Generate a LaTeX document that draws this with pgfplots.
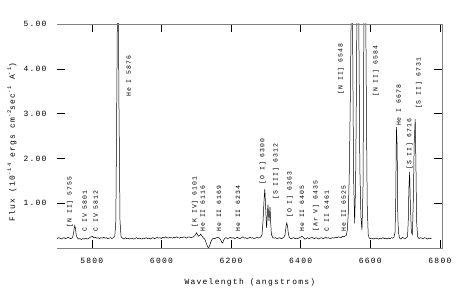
\documentclass[border=0pt]{standalone}
\usepackage{pgfplots}
\pgfplotsset{compat=1.18}
\usepackage{fontspec}
\newfontfamily\hf[LetterSpace=16]{Liberation Mono}
\newcommand\tickf{\hf\fontsize{8}{9}\selectfont}
\newcommand\labf{\hf\fontsize{6.5}{7}\selectfont}
\newcommand\sups[1]{\raisebox{0.9ex}{\hf\fontsize{5.5}{6}\selectfont #1}}
\pgfplotstableread{
lam flux
5700 0.21
5704 0.23
5708 0.22
5712 0.20
5716 0.22
5720 0.23
5724 0.21
5728 0.22
5732 0.24
5736 0.22
5740 0.21
5744 0.23
5747 0.30
5749 0.42
5751 0.50
5753 0.44
5755 0.30
5758 0.23
5762 0.20
5766 0.21
5770 0.19
5774 0.21
5778 0.20
5782 0.22
5786 0.20
5790 0.21
5794 0.23
5798 0.25
5802 0.26
5806 0.23
5810 0.24
5814 0.22
5818 0.23
5822 0.21
5826 0.23
5830 0.22
5834 0.24
5838 0.22
5842 0.23
5846 0.21
5850 0.22
5854 0.23
5858 0.21
5862 0.24
5866 0.25
5869 0.60
5872 3.60
5875 7.00
5878 3.20
5881 0.60
5884 0.25
5888 0.22
5892 0.20
5896 0.23
5900 0.21
5904 0.22
5908 0.20
5912 0.21
5916 0.22
5920 0.20
5924 0.21
5928 0.23
5932 0.21
5936 0.22
5940 0.21
5944 0.20
5948 0.22
5952 0.21
5956 0.23
5960 0.21
5964 0.22
5968 0.20
5972 0.22
5976 0.23
5980 0.21
5984 0.22
5988 0.24
5992 0.22
5996 0.23
6000 0.21
6004 0.24
6008 0.22
6012 0.25
6016 0.23
6020 0.22
6024 0.24
6028 0.23
6032 0.22
6036 0.24
6040 0.23
6044 0.25
6048 0.23
6052 0.22
6056 0.24
6060 0.23
6064 0.25
6068 0.24
6072 0.22
6076 0.24
6080 0.25
6084 0.23
6088 0.24
6092 0.25
6095 0.27
6098 0.30
6101 0.34
6104 0.29
6107 0.26
6110 0.28
6113 0.31
6116 0.27
6120 0.23
6124 0.20
6127 0.15
6130 0.08
6133 0.02
6136 0.01
6139 0.06
6142 0.14
6146 0.20
6150 0.22
6154 0.21
6158 0.23
6162 0.24
6166 0.22
6170 0.19
6173 0.13
6176 0.11
6179 0.18
6182 0.22
6186 0.23
6190 0.21
6194 0.22
6198 0.24
6202 0.22
6206 0.23
6210 0.21
6214 0.22
6218 0.24
6222 0.22
6226 0.21
6230 0.23
6234 0.25
6238 0.22
6242 0.23
6246 0.21
6250 0.22
6254 0.24
6258 0.22
6262 0.23
6266 0.21
6270 0.22
6274 0.24
6278 0.22
6282 0.23
6286 0.25
6289 0.30
6292 0.62
6295 1.10
6297 1.32
6300 0.80
6302 0.45
6304 0.70
6306 0.97
6309 0.60
6312 0.92
6314 0.55
6316 0.30
6320 0.23
6324 0.22
6328 0.23
6332 0.21
6336 0.22
6340 0.23
6344 0.21
6348 0.22
6352 0.24
6355 0.30
6358 0.48
6360 0.56
6362 0.50
6365 0.30
6368 0.23
6372 0.21
6376 0.22
6380 0.23
6384 0.21
6388 0.22
6392 0.21
6396 0.23
6400 0.24
6403 0.26
6406 0.25
6409 0.22
6412 0.20
6416 0.21
6420 0.23
6424 0.21
6428 0.22
6432 0.24
6436 0.22
6440 0.21
6444 0.23
6448 0.22
6452 0.20
6456 0.22
6460 0.23
6464 0.21
6468 0.22
6472 0.24
6476 0.22
6480 0.23
6484 0.21
6488 0.22
6492 0.23
6496 0.22
6500 0.24
6504 0.23
6508 0.25
6512 0.24
6516 0.23
6520 0.26
6524 0.25
6528 0.27
6531 0.28
6534 0.40
6537 0.80
6540 1.80
6543 3.60
6546 6.00
6549 5.00
6552 1.60
6555 0.55
6558 1.50
6561 4.50
6564 9.00
6567 5.00
6570 1.80
6573 0.70
6576 0.40
6579 1.30
6582 5.50
6585 8.00
6588 4.00
6591 1.00
6594 0.30
6597 0.22
6600 0.21
6604 0.22
6608 0.20
6612 0.21
6616 0.22
6620 0.21
6624 0.20
6628 0.22
6632 0.21
6636 0.23
6640 0.21
6644 0.22
6648 0.20
6652 0.22
6656 0.21
6660 0.23
6664 0.22
6668 0.24
6671 0.35
6673 1.00
6675 2.70
6677 2.30
6679 0.70
6681 0.35
6684 0.22
6688 0.20
6692 0.24
6696 0.22
6700 0.21
6704 0.23
6707 0.26
6709 0.60
6711 1.35
6713 1.70
6715 1.00
6718 0.35
6721 0.30
6724 1.20
6726 2.30
6729 2.88
6731 1.90
6733 0.60
6736 0.25
6740 0.21
6744 0.23
6748 0.22
6752 0.21
6756 0.23
6760 0.22
6764 0.20
6768 0.22
6772 0.21
6776 0.22
}\spec
\begin{document}
\begin{tikzpicture}
\useasboundingbox (-57bp,-50bp) rectangle (411bp,248bp);
\begin{axis}[
  at={(0,0)}, anchor=south west,
  scale only axis, width=385bp, height=224bp,
  xmin=5700, xmax=6806, ymin=0, ymax=5,
  xtick={5800,6000,6200,6400,6600,6800},
  xticklabels={5800,6000,6200,6400,6600,6800},
  ytick={1,2,3,4,5},
  yticklabels={1.00,2.00,3.00,4.00,5.00},
  tick align=inside, major tick length=8bp,
  tick style={black, line width=0.6pt},
  axis line style={draw=none},
  clip mode=individual,
  ticklabel style={font=\tickf},
  xticklabel style={yshift=-7bp},
  yticklabel style={xshift=-7bp},
  xlabel={Wavelength (angstroms)},
  xlabel style={font=\tickf, at={(axis description cs:0.501,0)}, anchor=center, yshift=-34bp},
  ylabel={Flux (10\sups{-14} ergs cm\sups{-2}sec\sups{-1} A\sups{-1})},
  ylabel style={font=\tickf, at={(axis description cs:-0.117,0.473)}, anchor=center},
]
\addplot[black, line width=0.5pt, mark=none] table[x=lam, y=flux] {\spec};
\draw[gray, line width=0.7pt] (rel axis cs:0,0) -- (rel axis cs:1,0) -- (rel axis cs:1,1) -- (rel axis cs:0,1);
\tikzset{lab/.style={rotate=90, anchor=west, font=\labf, inner sep=0pt}}
\node[lab] at (axis cs:5737,0.45) {[N II] 5755};
\node[lab] at (axis cs:5780,0.36) {C IV 5801};
\node[lab] at (axis cs:5811,0.36) {C IV 5812};
\node[lab] at (axis cs:5906,3.37) {He I 5876};
\node[lab] at (axis cs:6096,0.45) {[K IV] 6101};
\node[lab] at (axis cs:6119,0.36) {He II 6116};
\node[lab] at (axis cs:6165,0.36) {He II 6169};
\node[lab] at (axis cs:6220,0.36) {He II 6234};
\node[lab] at (axis cs:6291,1.41) {[O I] 6300};
\node[lab] at (axis cs:6329,1.07) {[S III] 6312};
\node[lab] at (axis cs:6369,0.67) {[O I] 6363};
\node[lab] at (axis cs:6404,0.36) {He II 6405};
\node[lab] at (axis cs:6444,0.36) {[Ar V] 6435};
\node[lab] at (axis cs:6475,0.36) {C II 6461};
\node[lab] at (axis cs:6524,0.36) {He II 6525};
\node[lab] at (axis cs:6516,3.42) {[N II] 6548};
\node[lab] at (axis cs:6616,3.37) {[N II] 6584};
\node[lab] at (axis cs:6682,2.72) {He I 6678};
\node[lab] at (axis cs:6713,1.74) {[S II] 6716};
\node[lab] at (axis cs:6740,3.10) {[S II] 6731};
\end{axis}
\end{tikzpicture}
\end{document}
